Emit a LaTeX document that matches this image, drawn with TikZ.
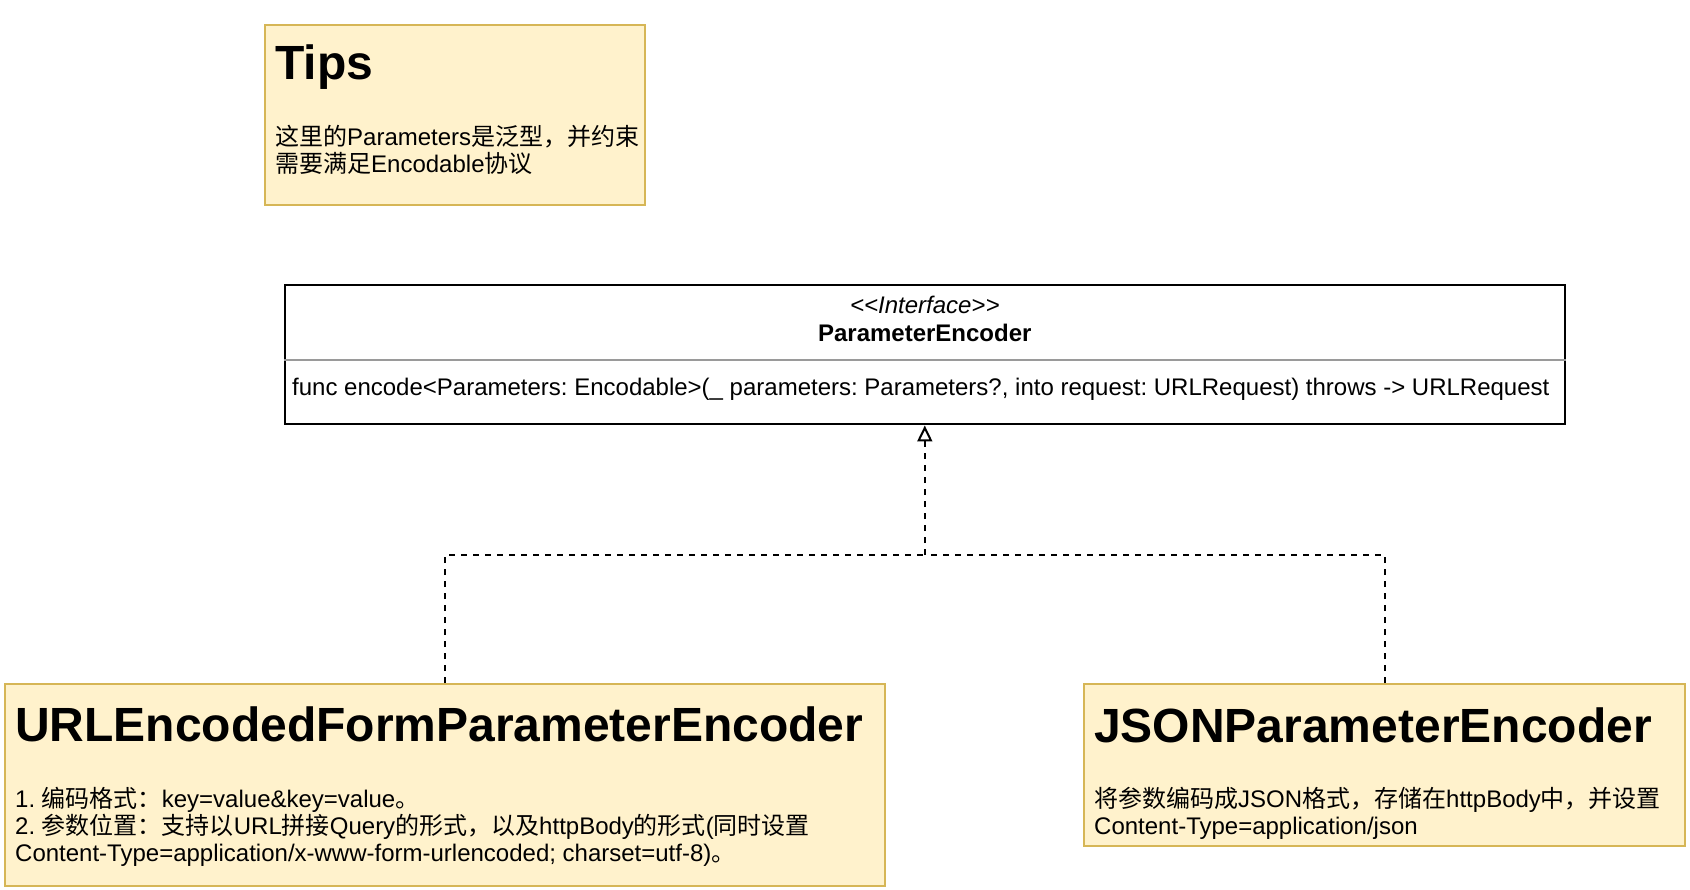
\documentclass[tikz,border=0pt]{standalone}
\usepackage{fontspec}
\setmainfont{Liberation Sans}
\newfontfamily\cjk{Noto Sans CJK SC}
\usetikzlibrary{arrows.meta}
\newcommand{\zh}[1]{{\cjk #1}}
\definecolor{notefill}{HTML}{FFF2CC}
\definecolor{notedraw}{HTML}{D6B656}
\definecolor{divgray}{HTML}{9A9A9A}
\tikzset{
  notebox/.style={draw=notedraw, fill=notefill, line width=2pt, inner sep=0pt},
  ifacebox/.style={draw=black, fill=white, line width=2pt, inner sep=0pt},
  headtxt/.style={anchor=base west, inner sep=0pt, font=\fontsize{48}{56}\selectfont\bfseries},
  bodytxt/.style={anchor=base west, inner sep=0pt, font=\fontsize{24}{28}\selectfont},
  ctrtxt/.style={anchor=base, inner sep=0pt, font=\fontsize{24}{28}\selectfont},
  dep/.style={draw=black, line width=2pt, dash pattern=on 6pt off 6pt},
  divider/.style={draw=divgray, line width=1.5pt}
}
\begin{document}
\frenchspacing
\begin{tikzpicture}[x=1pt,y=-1pt]
\useasboundingbox (0,0) rectangle (1690,890);
% Tips note
\node[notebox, minimum width=380pt, minimum height=180pt] (tips) at (455,115) {};
\node[headtxt] (tipsT) at (275,80) {Tips};
\node[bodytxt] (tipsL1) at (275,146) {\zh{这里的}Parameters\zh{是泛型，并约束}};
\node[bodytxt] (tipsL2) at (275,173) {\zh{需要满足}Encodable\zh{协议}};
% Interface
\node[ifacebox, minimum width=1280pt, minimum height=139pt] (iface) at (924.8,355) {};
\draw[divider] ([yshift=-5pt]iface.west) -- ([yshift=-5pt]iface.east);
\node[ctrtxt, font=\fontsize{24}{28}\selectfont\itshape] (ifaceS) at (924.8,314) {<\kern0pt<Interface>\kern0pt>};
\node[ctrtxt, font=\fontsize{24}{28}\selectfont\bfseries] (ifaceN) at (924.8,342) {ParameterEncoder};
\node[bodytxt] (ifaceM) at (292,396) {func encode<Parameters: Encodable>(\_ parameters: Parameters?, into request: URLRequest) throws -\kern0pt> URLRequest};
% URL encoder
\node[notebox, minimum width=880pt, minimum height=202pt] (url) at (445,785) {};
\node[headtxt] (urlT) at (15,741) {URLEncodedFormParameterEncoder};
\node[bodytxt] (urlL1) at (15,807) {1. \zh{编码格式：}key=value\&key=value\zh{。}};
\node[bodytxt] (urlL2) at (15,834) {2. \zh{参数位置：支持以}URL\zh{拼接}Query\zh{的形式，以及}httpBody\zh{的形式}(\zh{同时设置}};
\node[bodytxt] (urlL3) at (15,861) {Content-Type=application/x-www-form-urlencoded; charset=utf-8)\zh{。}};
% JSON encoder
\node[notebox, minimum width=601pt, minimum height=162pt] (json) at (1384.5,765) {};
\node[headtxt] (jsonT) at (1094,742) {JSONParameterEncoder};
\node[bodytxt] (jsonL1) at (1094,807) {\zh{将参数编码成}JSON\zh{格式，存储在}httpBody\zh{中，并设置}};
\node[bodytxt] (jsonL2) at (1094,834) {Content-Type=application/json};
% connectors
\coordinate (j) at (924.8,555);
\draw[dep] (url.north) |- (j);
\draw[dep] (json.north) |- (j);
\draw[dep, -{Triangle[open, width=15pt, length=16pt, line width=2pt]}] (j) -- (iface.south);
\end{tikzpicture}
\end{document}
